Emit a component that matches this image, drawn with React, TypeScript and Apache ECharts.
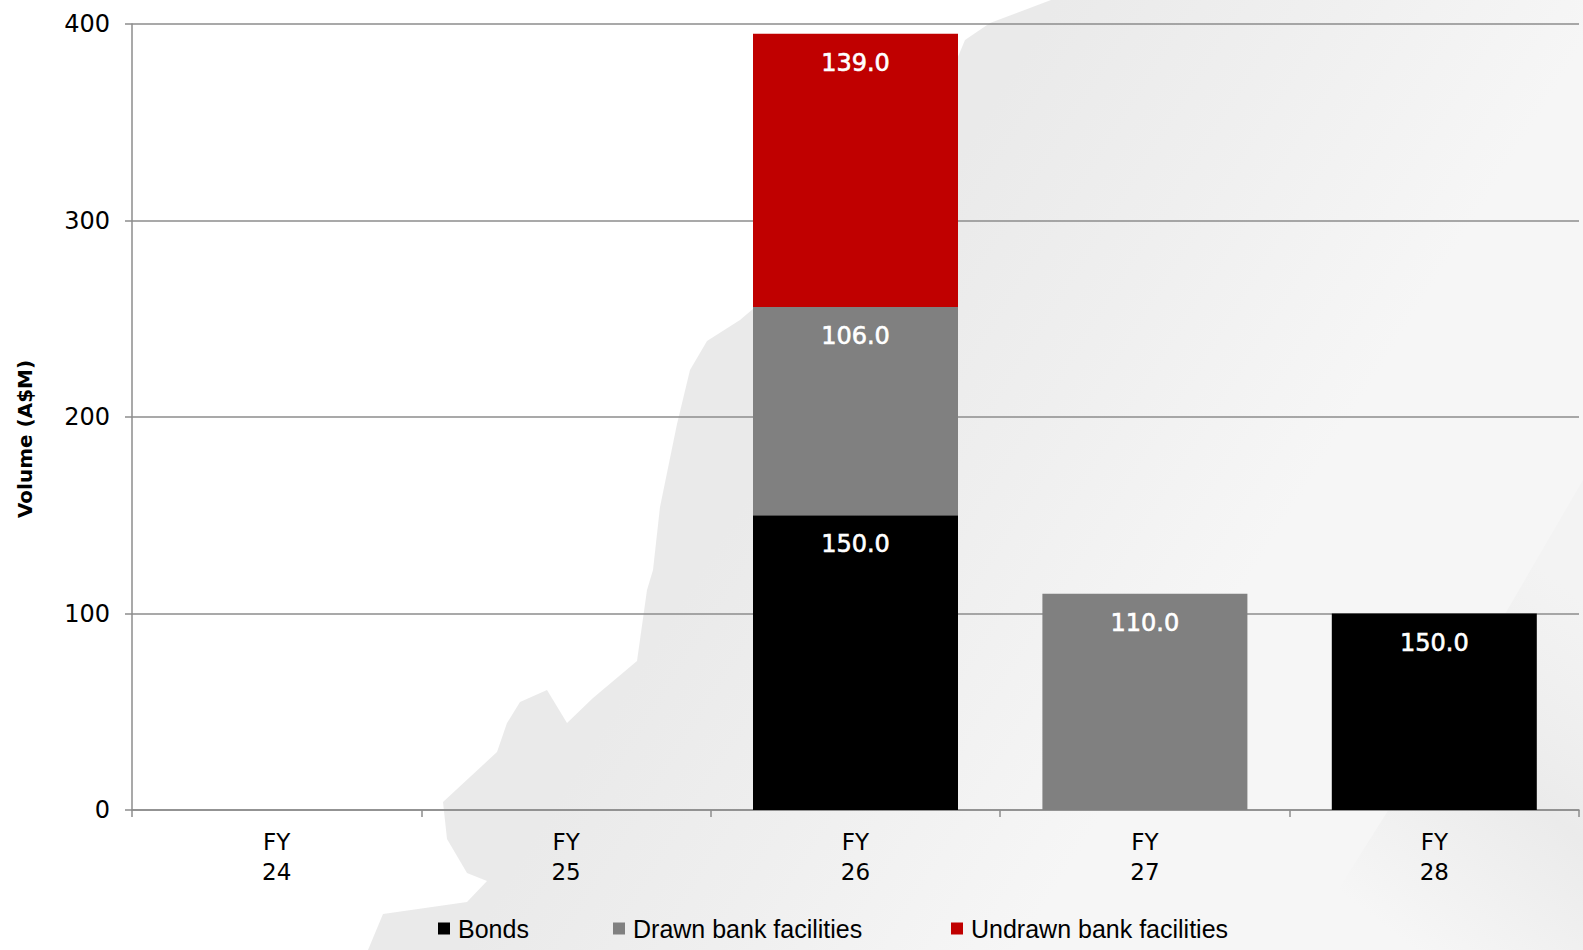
import React, { useEffect, useRef } from "react";
import * as echarts from "echarts";

const categories = ["FY\n24", "FY\n25", "FY\n26", "FY\n27", "FY\n28"];
const seriesNames = ["Bonds", "Drawn bank facilities", "Undrawn bank facilities"];
const bonds: (number | null)[] = [null, null, 150, null, 100];
const drawn: (number | null)[] = [null, null, 106, 110, null];
const undrawn: (number | null)[] = [null, null, 139, null, null];
const bondsLabelText: (string | null)[] = [null, null, "150.0", null, "150.0"];
const drawnLabelText: (string | null)[] = [null, null, "106.0", "110.0", null];
const undrawnLabelText: (string | null)[] = [null, null, "139.0", null, null];
const yTicks = { min: 0, max: 400, interval: 100 };

const FONT = "'DejaVu Sans', sans-serif";
const LEGEND_FONT = "'Liberation Sans', Arial, sans-serif";

export default function App() {
  const ref = useRef<HTMLDivElement>(null);
  useEffect(() => {
    if (!ref.current) return;
    const chart = echarts.init(ref.current, null, { renderer: "svg" });
    const label = (texts: (string | null)[]) => ({
      show: true,
      position: "insideTop" as const,
      distance: 17,
      color: "#ffffff",
      fontFamily: FONT,
      fontSize: 24,
      textBorderColor: "#ffffff",
      textBorderWidth: 0.6,
      formatter: (p: any) => texts[p.dataIndex] ?? (p.value == null ? "" : Number(p.value).toFixed(1)),
    });
    const legendLefts = [433, 608, 946];
    const legends = seriesNames.map((n, i) => ({
      left: legendLefts[i],
      top: 911,
      icon: "rect",
      itemWidth: 12,
      itemHeight: 12,
      selectedMode: false,
      textStyle: { color: "#000000", fontFamily: LEGEND_FONT, fontSize: 25, padding: [0, 0, 0, 3] },
      data: [n],
    }));
    chart.setOption({
      animation: false,
      backgroundColor: "#ffffff",
      graphic: [
        {
          type: "polygon",
          z: -10,
          silent: true,
          shape: {
            points: [
              [1051, 0], [1583, 0], [1583, 950], [368, 950], [383, 914], [467, 902], [487, 881],
              [467, 873], [447, 839], [443, 802], [470, 777], [497, 752], [507, 723], [520, 702],
              [547, 690], [567, 723], [593, 698], [637, 661], [647, 590], [653, 570], [660, 507],
              [677, 424], [690, 370], [707, 341], [740, 320], [880, 200], [940, 100], [965, 40], [990, 23],
            ],
          },
          style: {
            fill: new echarts.graphic.LinearGradient(
              900, 250, 1300, 500,
              [
                { offset: 0, color: "#eaeaea" },
                { offset: 0.45, color: "#efefef" },
                { offset: 1, color: "#f6f6f6" },
              ],
              true
            ),
          },
        },
        {
          type: "polygon",
          z: -9,
          silent: true,
          shape: { points: [[1583, 480], [1583, 950], [1300, 950], [1420, 760]] },
          style: {
            fill: new echarts.graphic.LinearGradient(
              1350, 900, 1583, 600,
              [
                { offset: 0, color: "rgba(232,232,232,0)" },
                { offset: 0.5, color: "rgba(232,232,232,0.8)" },
                { offset: 1, color: "rgba(236,236,236,0.3)" },
              ],
              true
            ),
          },
        },
        {
          type: "text",
          x: 25,
          y: 439,
          rotation: Math.PI / 2,
          style: {
            text: "Volume (A$M)",
            fill: "#000000",
            font: `bold 20px ${FONT}`,
            textAlign: "center",
            textVerticalAlign: "middle",
          },
        },
      ],
      grid: { left: 132, right: 4, top: 24, bottom: 140 },
      legend: legends,
      xAxis: {
        type: "category",
        data: categories,
        boundaryGap: true,
        axisLine: { lineStyle: { color: "#8c8c8c", width: 1.5 } },
        axisTick: { show: true, length: 7, lineStyle: { color: "#8c8c8c", width: 1.5 } },
        axisLabel: { color: "#000000", fontFamily: FONT, fontSize: 23, lineHeight: 30, margin: 17 },
      },
      yAxis: {
        type: "value",
        min: yTicks.min,
        max: yTicks.max,
        interval: yTicks.interval,
        axisLine: { show: true, lineStyle: { color: "#8c8c8c", width: 1.5 } },
        axisTick: { show: true, length: 7, lineStyle: { color: "#8c8c8c", width: 1.5 } },
        splitLine: { show: true, lineStyle: { color: "#8c8c8c", width: 1.5 } },
        axisLabel: { color: "#000000", fontFamily: FONT, fontSize: 24, margin: 22 },
      },
      series: [
        {
          name: seriesNames[0],
          type: "bar",
          stack: "total",
          data: bonds,
          barWidth: 205,
          itemStyle: { color: "#000000" },
          label: label(bondsLabelText),
        },
        {
          name: seriesNames[1],
          type: "bar",
          stack: "total",
          data: drawn,
          barWidth: 205,
          itemStyle: { color: "#808080" },
          label: label(drawnLabelText),
        },
        {
          name: seriesNames[2],
          type: "bar",
          stack: "total",
          data: undrawn,
          barWidth: 205,
          itemStyle: { color: "#c00000" },
          label: label(undrawnLabelText),
        },
      ],
    });
    return () => chart.dispose();
  }, []);
  return (
    <div
      ref={ref}
      style={{ position: "fixed", left: 0, top: 0, width: 1583, height: 950 }}
    />
  );
}
